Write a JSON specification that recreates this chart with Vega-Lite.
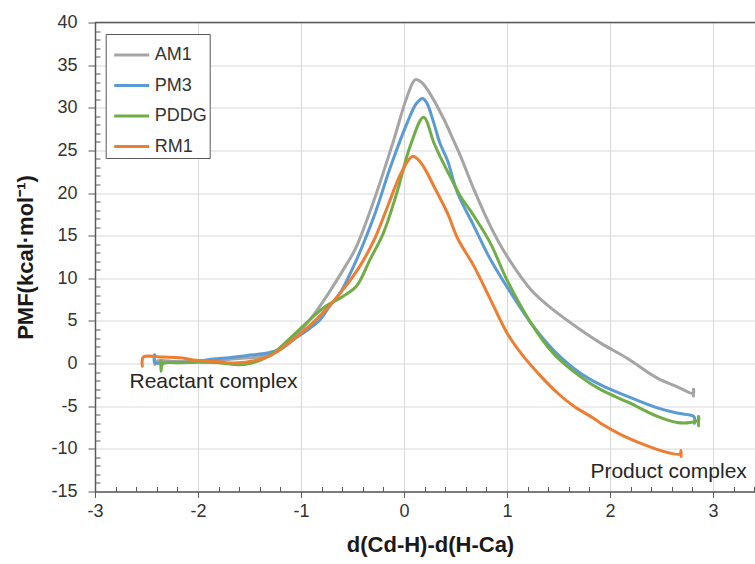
{
 "$schema": "https://vega.github.io/schema/vega-lite/v6.json",
 "width": 660,
 "height": 469,
 "autosize": {"type": "none"},
 "padding": {"left": 95, "top": 22.5, "right": 0, "bottom": 72.5},
 "background": "white",
 "config": {"view": {"stroke": null}, "font": "Liberation Sans"},
 "resolve": {"axis": {"x": "independent", "y": "independent"}},
 "datasets": {
  "pmf": [
   {"m":"AM1","i":0,"x":-2.42,"y":1.0},{"m":"AM1","i":1,"x":-2.42,"y":-0.1},{"m":"AM1","i":2,"x":-2.40,"y":0.3},{"m":"AM1","i":3,"x":-2.2,"y":0.25},{"m":"AM1","i":4,"x":-2.0,"y":0.3},{"m":"AM1","i":5,"x":-1.8,"y":0.4},{"m":"AM1","i":6,"x":-1.6,"y":0.6},{"m":"AM1","i":7,"x":-1.4,"y":0.8},{"m":"AM1","i":8,"x":-1.22,"y":1.5},{"m":"AM1","i":9,"x":-1.05,"y":3.2},{"m":"AM1","i":10,"x":-0.89,"y":5.5},{"m":"AM1","i":11,"x":-0.73,"y":8.3},{"m":"AM1","i":12,"x":-0.57,"y":11.4},{"m":"AM1","i":13,"x":-0.47,"y":13.5},{"m":"AM1","i":14,"x":-0.29,"y":19.2},{"m":"AM1","i":15,"x":-0.1,"y":26.2},{"m":"AM1","i":16,"x":0.03,"y":31.3},{"m":"AM1","i":17,"x":0.11,"y":33.3},{"m":"AM1","i":18,"x":0.17,"y":33.0},{"m":"AM1","i":19,"x":0.24,"y":31.9},{"m":"AM1","i":20,"x":0.39,"y":28.6},{"m":"AM1","i":21,"x":0.48,"y":26.2},{"m":"AM1","i":22,"x":0.55,"y":24.3},{"m":"AM1","i":23,"x":0.68,"y":20.4},{"m":"AM1","i":24,"x":0.84,"y":16.1},{"m":"AM1","i":25,"x":1.0,"y":12.6},{"m":"AM1","i":26,"x":1.23,"y":8.7},{"m":"AM1","i":27,"x":1.45,"y":6.3},{"m":"AM1","i":28,"x":1.71,"y":4.0},{"m":"AM1","i":29,"x":1.91,"y":2.4},{"m":"AM1","i":30,"x":2.17,"y":0.6},{"m":"AM1","i":31,"x":2.46,"y":-1.7},{"m":"AM1","i":32,"x":2.65,"y":-2.7},{"m":"AM1","i":33,"x":2.81,"y":-3.5},{"m":"AM1","i":34,"x":2.81,"y":-3.0},{"m":"AM1","i":35,"x":2.81,"y":-3.8},
   {"m":"PM3","i":0,"x":-2.42,"y":1.0},{"m":"PM3","i":1,"x":-2.42,"y":0.1},{"m":"PM3","i":2,"x":-2.3,"y":0.15},{"m":"PM3","i":3,"x":-2.1,"y":0.15},{"m":"PM3","i":4,"x":-1.95,"y":0.35},{"m":"PM3","i":5,"x":-1.85,"y":0.55},{"m":"PM3","i":6,"x":-1.7,"y":0.7},{"m":"PM3","i":7,"x":-1.52,"y":0.95},{"m":"PM3","i":8,"x":-1.33,"y":1.25},{"m":"PM3","i":9,"x":-1.2,"y":1.7},{"m":"PM3","i":10,"x":-1.05,"y":3.0},{"m":"PM3","i":11,"x":-0.94,"y":3.9},{"m":"PM3","i":12,"x":-0.81,"y":5.2},{"m":"PM3","i":13,"x":-0.73,"y":6.6},{"m":"PM3","i":14,"x":-0.62,"y":8.3},{"m":"PM3","i":15,"x":-0.46,"y":12.2},{"m":"PM3","i":16,"x":-0.29,"y":17.3},{"m":"PM3","i":17,"x":-0.13,"y":23.1},{"m":"PM3","i":18,"x":0.03,"y":28.2},{"m":"PM3","i":19,"x":0.12,"y":30.5},{"m":"PM3","i":20,"x":0.18,"y":31.1},{"m":"PM3","i":21,"x":0.22,"y":30.6},{"m":"PM3","i":22,"x":0.29,"y":28.2},{"m":"PM3","i":23,"x":0.35,"y":25.8},{"m":"PM3","i":24,"x":0.42,"y":23.9},{"m":"PM3","i":25,"x":0.52,"y":20.0},{"m":"PM3","i":26,"x":0.68,"y":16.1},{"m":"PM3","i":27,"x":0.84,"y":12.2},{"m":"PM3","i":28,"x":1.0,"y":9.0},{"m":"PM3","i":29,"x":1.23,"y":4.8},{"m":"PM3","i":30,"x":1.45,"y":1.6},{"m":"PM3","i":31,"x":1.71,"y":-1.1},{"m":"PM3","i":32,"x":1.91,"y":-2.5},{"m":"PM3","i":33,"x":2.17,"y":-3.85},{"m":"PM3","i":34,"x":2.46,"y":-5.2},{"m":"PM3","i":35,"x":2.65,"y":-5.8},{"m":"PM3","i":36,"x":2.8,"y":-6.1},{"m":"PM3","i":37,"x":2.82,"y":-6.3},{"m":"PM3","i":38,"x":2.82,"y":-7.0},
   {"m":"PDDG","i":0,"x":-2.36,"y":0.3},{"m":"PDDG","i":1,"x":-2.36,"y":-0.9},{"m":"PDDG","i":2,"x":-2.34,"y":0.0},{"m":"PDDG","i":3,"x":-2.19,"y":0.1},{"m":"PDDG","i":4,"x":-2.0,"y":0.15},{"m":"PDDG","i":5,"x":-1.8,"y":0.1},{"m":"PDDG","i":6,"x":-1.6,"y":-0.15},{"m":"PDDG","i":7,"x":-1.5,"y":0.0},{"m":"PDDG","i":8,"x":-1.38,"y":0.45},{"m":"PDDG","i":9,"x":-1.25,"y":1.4},{"m":"PDDG","i":10,"x":-1.05,"y":3.6},{"m":"PDDG","i":11,"x":-0.91,"y":5.2},{"m":"PDDG","i":12,"x":-0.75,"y":6.8},{"m":"PDDG","i":13,"x":-0.59,"y":7.9},{"m":"PDDG","i":14,"x":-0.46,"y":9.1},{"m":"PDDG","i":15,"x":-0.33,"y":12.2},{"m":"PDDG","i":16,"x":-0.2,"y":15.3},{"m":"PDDG","i":17,"x":-0.07,"y":20.0},{"m":"PDDG","i":18,"x":0.06,"y":25.5},{"m":"PDDG","i":19,"x":0.19,"y":28.9},{"m":"PDDG","i":20,"x":0.29,"y":25.9},{"m":"PDDG","i":21,"x":0.35,"y":24.3},{"m":"PDDG","i":22,"x":0.45,"y":21.9},{"m":"PDDG","i":23,"x":0.55,"y":19.6},{"m":"PDDG","i":24,"x":0.68,"y":17.3},{"m":"PDDG","i":25,"x":0.84,"y":14.1},{"m":"PDDG","i":26,"x":1.0,"y":9.8},{"m":"PDDG","i":27,"x":1.23,"y":4.8},{"m":"PDDG","i":28,"x":1.45,"y":1.2},{"m":"PDDG","i":29,"x":1.71,"y":-1.5},{"m":"PDDG","i":30,"x":1.91,"y":-3.06},{"m":"PDDG","i":31,"x":2.17,"y":-4.5},{"m":"PDDG","i":32,"x":2.46,"y":-6.2},{"m":"PDDG","i":33,"x":2.65,"y":-6.9},{"m":"PDDG","i":34,"x":2.78,"y":-6.9},{"m":"PDDG","i":35,"x":2.86,"y":-6.6},{"m":"PDDG","i":36,"x":2.86,"y":-6.2},{"m":"PDDG","i":37,"x":2.86,"y":-7.3},
   {"m":"RM1","i":0,"x":-2.54,"y":-0.3},{"m":"RM1","i":1,"x":-2.53,"y":0.77},{"m":"RM1","i":2,"x":-2.35,"y":0.77},{"m":"RM1","i":3,"x":-2.15,"y":0.65},{"m":"RM1","i":4,"x":-2.02,"y":0.38},{"m":"RM1","i":5,"x":-1.83,"y":0.26},{"m":"RM1","i":6,"x":-1.64,"y":0.07},{"m":"RM1","i":7,"x":-1.44,"y":0.38},{"m":"RM1","i":8,"x":-1.28,"y":1.04},{"m":"RM1","i":9,"x":-1.12,"y":2.4},{"m":"RM1","i":10,"x":-0.92,"y":4.4},{"m":"RM1","i":11,"x":-0.73,"y":6.7},{"m":"RM1","i":12,"x":-0.59,"y":8.7},{"m":"RM1","i":13,"x":-0.43,"y":11.4},{"m":"RM1","i":14,"x":-0.29,"y":14.5},{"m":"RM1","i":15,"x":-0.16,"y":18.4},{"m":"RM1","i":16,"x":-0.03,"y":22.3},{"m":"RM1","i":17,"x":0.08,"y":24.3},{"m":"RM1","i":18,"x":0.13,"y":24.0},{"m":"RM1","i":19,"x":0.19,"y":23.1},{"m":"RM1","i":20,"x":0.29,"y":20.8},{"m":"RM1","i":21,"x":0.42,"y":17.7},{"m":"RM1","i":22,"x":0.52,"y":14.7},{"m":"RM1","i":23,"x":0.68,"y":11.4},{"m":"RM1","i":24,"x":0.84,"y":7.5},{"m":"RM1","i":25,"x":1.0,"y":3.6},{"m":"RM1","i":26,"x":1.16,"y":0.84},{"m":"RM1","i":27,"x":1.33,"y":-1.5},{"m":"RM1","i":28,"x":1.49,"y":-3.45},{"m":"RM1","i":29,"x":1.65,"y":-5.0},{"m":"RM1","i":30,"x":1.84,"y":-6.4},{"m":"RM1","i":31,"x":1.91,"y":-7.0},{"m":"RM1","i":32,"x":2.1,"y":-8.3},{"m":"RM1","i":33,"x":2.33,"y":-9.5},{"m":"RM1","i":34,"x":2.52,"y":-10.3},{"m":"RM1","i":35,"x":2.68,"y":-10.6},{"m":"RM1","i":36,"x":2.69,"y":-10.2},{"m":"RM1","i":37,"x":2.69,"y":-10.9}
  ]
 },
 "layer": [
  {
   "data": {"values": [{}]},
   "mark": {"type": "rule", "color": "#595959", "strokeWidth": 1.5},
   "encoding": {"y": {"datum": 40, "type": "quantitative", "axis": null}}
  },
  {
   "data": {"name": "pmf"},
   "mark": {"type": "line", "interpolate": "catmull-rom", "strokeJoin": "round", "strokeCap": "round"},
   "encoding": {
    "x": {"field": "x", "type": "quantitative",
     "scale": {"domain": [-3, 3.408], "nice": false, "zero": false},
     "axis": {
      "orient": "bottom",
      "values": [-3,-2,-1,0,1,2,3],
      "labelExpr": "'' + datum.value",
      "labelFlush": false, "labelBound": false,
      "grid": true, "gridColor": "#d9d9d9", "gridWidth": 1,
      "tickSize": 6, "tickColor": "#595959", "tickWidth": 1,
      "domainColor": "#595959", "domainWidth": 1.5,
      "labelFontSize": 18, "labelColor": "#333333", "labelPadding": 5, "labelFont": "Liberation Sans",
      "title": "d(Cd-H)-d(H-Ca)", "titleFontSize": 22, "titleFontWeight": "bold", "titleColor": "#1a1a1a", "titleFont": "Liberation Sans",
      "titleX": 335, "titleY": 53, "titleBaseline": "middle", "titleAlign": "center"
     }
    },
    "y": {"field": "y", "type": "quantitative",
     "scale": {"domain": [-15, 40], "nice": false, "zero": false},
     "axis": {
      "orient": "left",
      "values": [-15,-10,-5,0,5,10,15,20,25,30,35,40],
      "labelExpr": "'' + datum.value",
      "labelFlush": false, "labelBound": false,
      "grid": true, "gridColor": "#d9d9d9", "gridWidth": 1,
      "tickSize": 7, "tickColor": "#595959", "tickWidth": 1,
      "domainColor": "#595959", "domainWidth": 1.5,
      "labelFontSize": 18, "labelColor": "#333333", "labelPadding": 11, "labelFont": "Liberation Sans",
      "title": "PMF(kcal·mol⁻¹)", "titleFontSize": 22, "titleFontWeight": "bold", "titleColor": "#1a1a1a", "titleFont": "Liberation Sans",
      "titleX": -70, "titleY": 234.5, "titleAngle": -90, "titleBaseline": "middle", "titleAlign": "center"
     }
    },
    "color": {"field": "m", "type": "nominal",
     "scale": {"domain": ["AM1", "PM3", "PDDG", "RM1"], "range": ["#a5a5a5", "#5b9bd5", "#70ad47", "#ed7d31"]},
     "legend": {
      "title": null, "orient": "none", "legendX": 10.7, "legendY": 11.5,
      "strokeColor": "#595959", "fillColor": "white", "padding": 2,
      "symbolType": "stroke", "symbolSize": 1225, "symbolStrokeWidth": 2.5, "symbolOffset": 5,
      "labelOffset": 4, "labelFontSize": 18, "labelColor": "#333333", "labelFont": "Liberation Sans",
      "rowPadding": 2.5
     }
    },
    "strokeWidth": {"field": "m", "type": "nominal",
     "scale": {"domain": ["AM1", "PM3", "PDDG", "RM1"], "range": [3, 3, 1.4, 1.4]},
     "legend": null
    },
    "order": {"field": "i", "type": "quantitative"}
   }
  },
  {
   "data": {"values": [{}]},
   "mark": {"type": "text", "align": "left", "baseline": "alphabetic", "fontSize": 21, "color": "#262626", "font": "Liberation Sans"},
   "encoding": {
    "x": {"datum": -2.665, "type": "quantitative",
     "axis": {
      "orient": "bottom",
      "values": [-2.8,-2.6,-2.4,-2.2,-1.8,-1.6,-1.4,-1.2,-0.8,-0.6,-0.4,-0.2,0.2,0.4,0.6,0.8,1.2,1.4,1.6,1.8,2.2,2.4,2.6,2.8,3.2,3.4],
      "tickCount": 200,
      "labels": false, "domain": false, "grid": false, "title": null,
      "tickSize": -5, "tickColor": "#595959", "tickWidth": 1
     }
    },
    "y": {"datum": -2.86, "type": "quantitative",
     "axis": {
      "orient": "left",
      "values": [-14,-13,-12,-11,-9,-8,-7,-6,-4,-3,-2,-1,1,2,3,4,6,7,8,9,11,12,13,14,16,17,18,19,21,22,23,24,26,27,28,29,31,32,33,34,36,37,38,39],
      "tickCount": 200,
      "labels": false, "domain": false, "grid": false, "title": null,
      "tickSize": -5, "tickColor": "#595959", "tickWidth": 1
     }
    },
    "text": {"value": "Reactant complex"}
   }
  },
  {
   "data": {"values": [{}]},
   "mark": {"type": "text", "align": "left", "baseline": "alphabetic", "fontSize": 21, "color": "#262626", "font": "Liberation Sans"},
   "encoding": {
    "x": {"datum": 1.81, "type": "quantitative", "axis": null},
    "y": {"datum": -13.41, "type": "quantitative", "axis": null},
    "text": {"value": "Product complex"}
   }
  }
 ]
}
